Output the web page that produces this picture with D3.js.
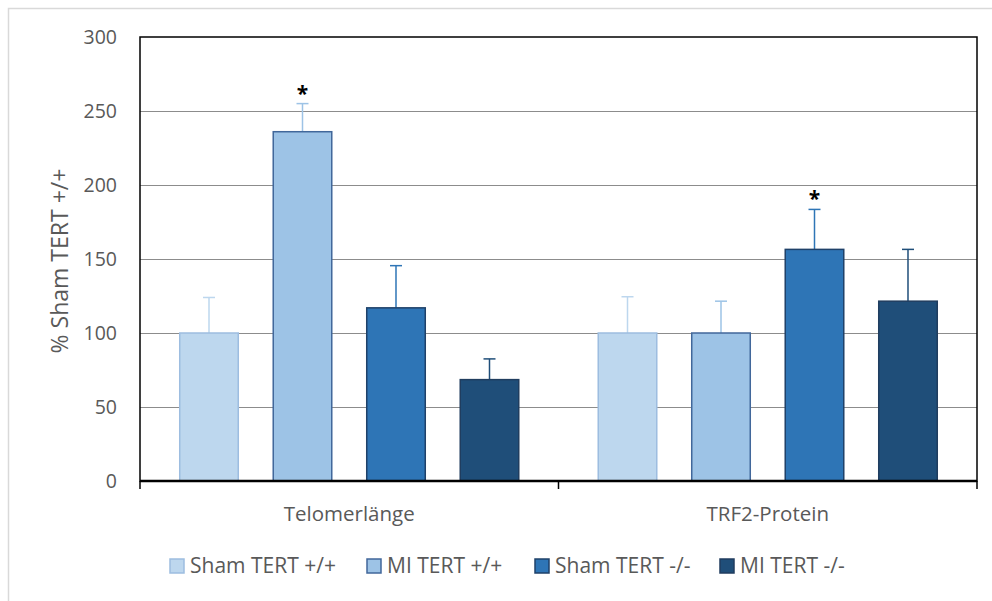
<!DOCTYPE html>
<html>
<head>
<meta charset="utf-8">
<script src="https://cdn.jsdelivr.net/npm/d3@7"></script>
<style>
  body { margin: 0; background: #fff; }
  text { font-family: "Open Sans", sans-serif; fill: #595959; }
</style>
</head>
<body>
<svg id="chart" width="992" height="601"></svg>
<script>
// data
const categories = ['Telomerlänge', 'TRF2-Protein'];
const series = ['Sham TERT +/+', 'MI TERT +/+', 'Sham TERT -/-', 'MI TERT -/-'];
const means = [
  [100, 236, 117, 68.5],
  [100, 100, 156.5, 121.5]
];
const errTops = [
  [124, 255, 145.5, 82.5],
  [124.5, 121.5, 183.5, 156.5]
];
const stars = [
  [false, true, false, false],
  [false, false, true, false]
];
const yTicks = [0, 50, 100, 150, 200, 250, 300];

const fills = ['#bdd7ee', '#9dc3e6', '#2e75b6', '#1f4e79'];
const strokes = ['#9dbde0', '#41679a', '#1f4169', '#203d5f'];
const errColors = ['#bdd7ee', '#9dc3e6', '#2e75b6', '#1f4e79'];

const svg = d3.select('#chart');
const m = { left: 140, right: 977, top: 37, bottom: 481 };

// outer chart frame
svg.append('rect')
  .attr('x', 8.5).attr('y', 8.5).attr('width', 1000).attr('height', 1000)
  .attr('fill', 'none').attr('stroke', '#d9d9d9').attr('stroke-width', 1.5);

const x0 = d3.scaleBand().domain(categories).range([m.left, m.right]);
const x1 = d3.scaleBand().domain(series).range([0, x0.bandwidth()])
  .paddingInner(0.358).paddingOuter(0.417);
const y = d3.scaleLinear().domain([0, 300]).range([m.bottom, m.top]);

// gridlines
svg.append('g').selectAll('line').data(yTicks.slice(1, -1)).join('line')
  .attr('x1', m.left).attr('x2', m.right)
  .attr('y1', d => Math.round(y(d)) + 0.5).attr('y2', d => Math.round(y(d)) + 0.5)
  .attr('stroke', '#8c8c8c').attr('stroke-width', 1);

// y tick labels
svg.append('g').selectAll('text').data(yTicks).join('text')
  .attr('x', 117).attr('y', d => y(d)).attr('dy', '0.35em')
  .attr('text-anchor', 'end').attr('font-size', 19.5)
  .text(d => d);

// y axis title
svg.append('text')
  .attr('transform', `translate(68,${(m.top + m.bottom) / 2 + 2}) rotate(-90)`)
  .attr('text-anchor', 'middle').attr('font-size', 23)
  .text('% Sham TERT +/+');

// bars
const groups = svg.append('g').selectAll('g').data(categories).join('g')
  .attr('transform', d => `translate(${x0(d)},0)`);

groups.each(function(cat, ci) {
  const g = d3.select(this);
  const rows = series.map((s, si) => ({
    s, si, v: means[ci][si], e: errTops[ci][si], star: stars[ci][si]
  }));

  // error bars (upper only)
  g.selectAll('.err').data(rows).join('g').attr('class', 'err')
    .each(function(d) {
      const cx = x1(d.s) + x1.bandwidth() / 2;
      const eg = d3.select(this);
      eg.append('line').attr('x1', cx).attr('x2', cx)
        .attr('y1', y(d.v)).attr('y2', y(d.e))
        .attr('stroke', errColors[d.si]).attr('stroke-width', 1.5);
      eg.append('line').attr('x1', cx - 6).attr('x2', cx + 6)
        .attr('y1', y(d.e)).attr('y2', y(d.e))
        .attr('stroke', errColors[d.si]).attr('stroke-width', 1.5);
    });

  g.selectAll('rect').data(rows).join('rect')
    .attr('x', d => x1(d.s) + 0.75)
    .attr('y', d => y(d.v))
    .attr('width', x1.bandwidth() - 1.5)
    .attr('height', d => y(0) - y(d.v))
    .attr('fill', d => fills[d.si])
    .attr('stroke', d => strokes[d.si])
    .attr('stroke-width', 1.5);

  g.selectAll('.star').data(rows.filter(d => d.star)).join('text')
    .attr('class', 'star')
    .attr('x', d => x1(d.s) + x1.bandwidth() / 2)
    .attr('y', d => y(d.e) - 3)
    .attr('text-anchor', 'middle').attr('font-size', 21)
    .style('fill', '#000').attr('font-weight', 'bold')
    .text('*');
});

// plot frame
svg.append('rect')
  .attr('x', m.left).attr('y', m.top)
  .attr('width', m.right - m.left).attr('height', m.bottom - m.top)
  .attr('fill', 'none').attr('stroke', '#000').attr('stroke-width', 1.5);
svg.append('line').attr('x1', m.left).attr('x2', m.right)
  .attr('y1', m.bottom).attr('y2', m.bottom)
  .attr('stroke', '#000').attr('stroke-width', 2.5);

// x category ticks
const xTickPos = categories.map(c => x0(c)).concat([m.right]);
svg.append('g').selectAll('line').data(xTickPos).join('line')
  .attr('x1', d => d).attr('x2', d => d)
  .attr('y1', m.bottom).attr('y2', m.bottom + 8)
  .attr('stroke', '#000').attr('stroke-width', 1.5);

// x category labels
svg.append('g').selectAll('text').data(categories).join('text')
  .attr('x', d => x0(d) + x0.bandwidth() / 2).attr('y', 521)
  .attr('text-anchor', 'middle').attr('font-size', 20.5)
  .text(d => d);

// legend
const legX = [170, 367, 535, 720];
const leg = svg.append('g').selectAll('g').data(series).join('g')
  .attr('transform', (d, i) => `translate(${legX[i]},566)`);
leg.append('rect')
  .attr('x', 0).attr('y', -7).attr('width', 14).attr('height', 14)
  .attr('fill', (d, i) => fills[i]).attr('stroke', (d, i) => strokes[i]).attr('stroke-width', 1.5);
leg.append('text')
  .attr('x', 20).attr('dy', '0.35em').attr('font-size', 21)
  .text(d => d);
</script>
</body>
</html>
